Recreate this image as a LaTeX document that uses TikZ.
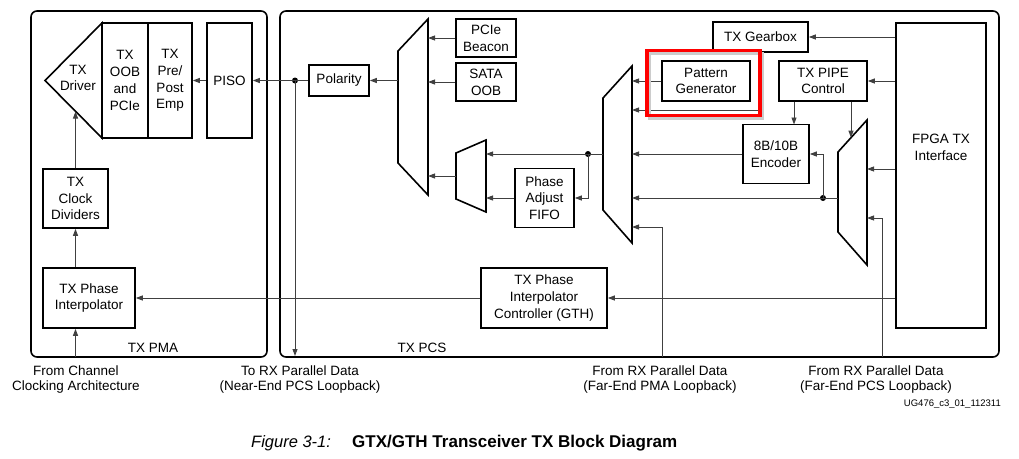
\documentclass[tikz,border=0pt]{standalone}
\usepackage{fontspec}
\setmainfont{Liberation Sans}
\usetikzlibrary{arrows.meta,calc}
\newcommand{\mfont}{\fontsize{13.5}{16.8}\selectfont}
\newcommand{\bfont}{\fontsize{13.5}{15.5}\selectfont}
\begin{document}
\begin{tikzpicture}[x=1pt,y=-1pt,
  box/.style={draw, line width=1.6pt, inner sep=0pt, align=center, font=\mfont},
  blk/.style={draw, line width=1.6pt, line join=miter},
  cont/.style={draw, line width=1.6pt, rounded corners=6pt, inner sep=0pt},
  wire/.style={draw=black!75, line width=0.9pt},
  arr/.style={wire, -{Triangle[length=7pt,width=5pt]}},
  dotn/.style={circle, fill=black, inner sep=0pt, minimum size=6pt},
  lbl/.style={font=\mfont, align=center, inner sep=0pt},
  blbl/.style={font=\bfont, align=center, inner sep=0pt}]

\useasboundingbox (0,0) rectangle (1019,458);

% containers
\node[cont, minimum width=236, minimum height=346] (pma) at (149,184) {};
\node[cont, minimum width=719, minimum height=346] (pcs) at (639.5,184) {};

% ---------- TX PMA ----------
\coordinate (drvtip) at (45,80.5);
\coordinate (drvtop) at (102,23);
\coordinate (drvbot) at (102,138);
\draw[blk] (drvtip) -- (drvtop) -- (drvbot) -- cycle;
\node[lbl] (drvtxt) at (78,78) {TX\\Driver};
\node[box, minimum width=46, minimum height=115] (oob) at (125,80.5) {TX\\OOB\\and\\PCIe};
\node[box, minimum width=44, minimum height=115] (emp) at (170,80.5) {TX\\Pre/\\Post\\Emp};
\node[box, minimum width=45, minimum height=115] (piso) at (229.5,80.5) {PISO};
\node[box, minimum width=65, minimum height=59] (clkdiv) at (75.5,198.5) {TX\\Clock\\Dividers};
\node[box, minimum width=92, minimum height=60] (txpi) at (89,298) {TX Phase\\Interpolator};
\node[lbl] (pmalabel) at (153,348) {TX PMA};

\coordinate (drvb) at (75.5,111.5);
\coordinate (chan) at (75.5,357);
\draw[arr] (piso.west) -- (emp.east);
\draw[arr] (clkdiv.north -| drvb) -- (drvb);
\draw[arr] (clkdiv.south |- txpi.north) -- (clkdiv.south);
\draw[arr] (chan) -- (chan |- txpi.south);

% ---------- TX PCS ----------
\node[box, minimum width=60, minimum height=31] (polarity) at (339,80.5) {Polarity};
\node[box, minimum width=60, minimum height=38] (pcie) at (486,38) {PCIe\\Beacon};
\node[box, minimum width=60, minimum height=38] (sata) at (486,82) {SATA\\OOB};
\node[box, minimum width=59, minimum height=59] (fifo) at (544.5,198) {Phase\\Adjust\\FIFO};
\node[box, minimum width=88, minimum height=40] (patgen) at (706,81) {Pattern\\Generator};
\node[box, minimum width=95, minimum height=30] (gearbox) at (760.5,37) {TX Gearbox};
\node[box, minimum width=88, minimum height=40] (pipe) at (823,81) {TX PIPE\\Control};
\node[box, minimum width=66, minimum height=59] (enc) at (776,154) {8B/10B\\Encoder};
\node[box, minimum width=90, minimum height=305] (fpga) at (941,175.5) {};
\node[lbl] (fpgatxt) at (941,147) {FPGA TX\\Interface};
\node[box, minimum width=126, minimum height=60, font=\fontsize{13.5}{17.3}\selectfont] (pic) at (544,298) {TX Phase\\Interpolator\\Controller (GTH)};
\node[lbl] (pcslabel) at (422,348) {TX PCS};

% multiplexers
\draw[blk] (398,51) -- (428,19) -- (428,195) -- (398,163) -- cycle;
\draw[blk] (456,153) -- (486,140) -- (486,212) -- (456,199) -- cycle;
\draw[blk] (603,98) -- (632,66) -- (632,243) -- (603,210) -- cycle;
\draw[blk] (838,152) -- (867,120) -- (867,265) -- (838,232) -- cycle;
\coordinate (m1L) at (398,0);
\coordinate (m1R) at (428,0);
\coordinate (sR) at (486,0);
\coordinate (m2R) at (632,0);
\coordinate (sout) at (456,176);
\coordinate (m2out) at (603,154);
\coordinate (m3out) at (838,198);
\coordinate (m3top) at (851,137.7);
\coordinate (m3in1) at (867,169);
\coordinate (m3in2) at (867,218);
\coordinate (m2in2) at (632,110);
\coordinate (m2in5) at (632,227);
\coordinate (gbc) at (763,110);
\coordinate (pe) at (794,124.5);
\coordinate (near) at (295,356);
\coordinate (pcsl) at (882,357);
\coordinate (pmal) at (662,357);

% dots
\node[dotn] (dot1) at (295,80.5) {};
\node[dotn] (dot2) at (588,154) {};
\node[dotn] (dot3) at (823,198) {};

% connectors
\draw[arr] (polarity.west) -- (piso.east);
\draw[arr] (dot1.center) -- (near);
\draw[arr] (polarity.east -| m1L) -- (polarity.east);
\draw[arr] (pcie.west) -- (pcie.west -| m1R);
\draw[arr] (sata.west) -- (sata.west -| m1R);
\draw[arr] (sout) -- (sout -| m1R);
\draw[arr] (m2out) -- (m2out -| sR);
\draw[arr] (dot2.center) |- (fifo.east);
\draw[arr] (fifo.west) -- (fifo.west -| sR);
\draw[arr] (patgen.west) -- (patgen.west -| m2R);
\draw[arr] (gearbox.south -| gbc) -- (gbc) -- (m2in2);
\draw[arr] (enc.west) -- (enc.west -| m2R);
\draw[arr] (m3out) -- (m3out -| m2R);
\draw[arr] (dot3.center) |- (enc.east);
\draw[arr] (pipe.south -| pe) -- (pe);
\draw[arr] (pipe.south -| m3top) -- (m3top);
\draw[arr] (fpga.west |- gearbox.east) -- (gearbox.east);
\draw[arr] (fpga.west |- pipe.east) -- (pipe.east);
\draw[arr] (fpga.west |- m3in1) -- (m3in1);
\draw[arr] (pcsl) |- (m3in2);
\draw[arr] (pmal) |- (m2in5);
\draw[arr] (fpga.west |- pic.east) -- (pic.east);
\draw[arr] (pic.west) -- (txpi.east);

% highlight
\node[draw=black!20, line width=3pt, minimum width=113, minimum height=65, inner sep=0pt] (hlshadow) at (705.5,85.5) {};
\node[draw=red, line width=3.5pt, minimum width=113, minimum height=65, inner sep=0pt] (hl) at (703.5,83) {};

% bottom labels
\node[blbl] (chanlbl) at (76,379.5) {From Channel\\Clocking Architecture};
\node[blbl] (nearlbl) at (300,379.5) {To RX Parallel Data\\(Near-End PCS Loopback)};
\node[blbl] (pmalbl) at (660,379.5) {From RX Parallel Data\\(Far-End PMA Loopback)};
\node[blbl] (pcslbl) at (876,379.5) {From RX Parallel Data\\(Far-End PCS Loopback)};
\node[inner sep=0pt, anchor=east, font=\fontsize{9.5}{11}\selectfont] (ug) at (1001,404) {UG476\_c3\_01\_112311};

% caption
\node[inner sep=0pt, anchor=west, font=\fontsize{16.5}{18}\selectfont\itshape] (capfig) at (251,443) {Figure 3-1:};
\node[inner sep=0pt, anchor=west, font=\fontsize{17}{19}\selectfont\bfseries] (captitle) at (352,443) {GTX/GTH Transceiver TX Block Diagram};
\end{tikzpicture}
\end{document}
